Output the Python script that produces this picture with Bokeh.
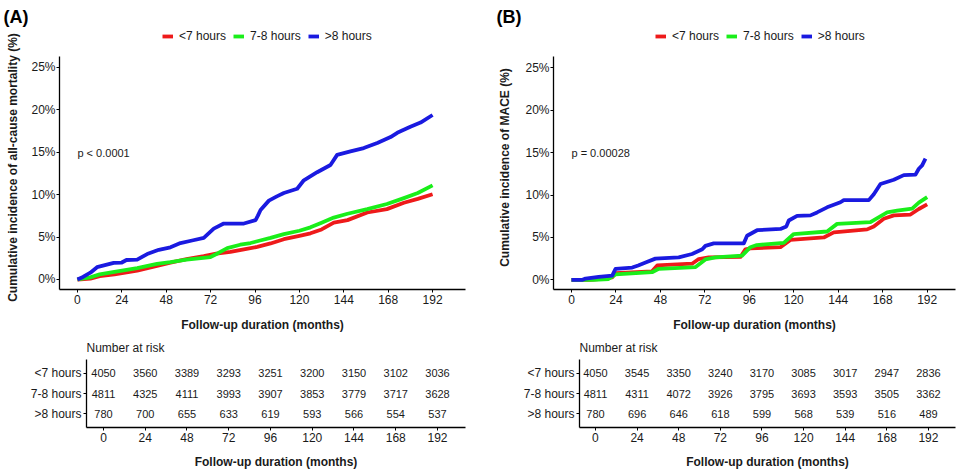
import math
from bokeh.plotting import figure
from bokeh.models import (Range1d, FixedTicker, PrintfTickFormatter, Label, Legend,
                          LegendItem, ColumnDataSource, Spacer)
from bokeh.layouts import row, column
from bokeh.embed import file_html
from bokeh.resources import INLINE
from bokeh.core.properties import value

FONT = "Liberation Sans"
GROUPS = ["<7 hours", "7-8 hours", ">8 hours"]
COLORS = ["#EE1A1A", "#1AEE1A", "#1A1AE0"]
X_TICKS = [0, 24, 48, 72, 96, 120, 144, 168, 192]
Y_TICKS = [0, 5, 10, 15, 20, 25]
RISK_TIMES = [0, 24, 48, 72, 96, 120, 144, 168, 192]

# ---------------- Panel A: all-cause mortality (cumulative %, months) ----------------
a_lt7_t = [0, 7, 12, 20, 32.3, 43, 50.3, 59, 68.3, 75, 82.7, 90, 97.2, 104.4, 111.6, 120,
           126, 132, 138.6, 146, 156.7, 167.3, 176.5, 184, 192]
a_lt7_y = [0, 0.1, 0.4, 0.6, 1.05, 1.6, 2.0, 2.4, 2.75, 3.05, 3.25, 3.55, 3.85, 4.25, 4.75, 5.15,
           5.45, 5.9, 6.7, 7.0, 7.9, 8.3, 9.05, 9.5, 10.05]
a_78_t = [0, 7, 12, 20, 32.3, 43, 50.3, 59, 71.9, 76, 81, 88, 93.6, 98.8, 104.4, 111.6, 120,
          126, 132, 138.6, 146, 156.7, 167.3, 176.5, 184, 192]
a_78_y = [0, 0.25, 0.6, 0.9, 1.35, 1.85, 2.05, 2.35, 2.65, 3.1, 3.7, 4.1, 4.3, 4.6, 4.9, 5.35, 5.75,
          6.15, 6.7, 7.3, 7.75, 8.3, 8.9, 9.6, 10.2, 11.1]
a_gt8_t = [0, 3, 7, 10.6, 19.6, 24, 26.5, 32.3, 37.7, 44, 50.3, 55.7, 62, 68.3, 73.7, 79.1, 90,
           96.3, 97.5, 99, 103.5, 107.8, 111.6, 118.8, 122.4, 129.6, 136.8, 140.4, 147.6, 154.8,
           162.1, 169.3, 172.9, 180, 185.5, 192]
a_gt8_y = [0, 0.3, 0.8, 1.45, 1.95, 2.0, 2.3, 2.35, 3.0, 3.5, 3.8, 4.3, 4.6, 4.9, 6.0, 6.6, 6.6,
           7.0, 7.5, 8.2, 9.3, 9.8, 10.2, 10.7, 11.7, 12.65, 13.5, 14.7, 15.1, 15.5,
           16.1, 16.8, 17.3, 18.0, 18.5, 19.4]

# ---------------- Panel B: MACE (cumulative %, months) ----------------
b_lt7_t = [0, 10, 14.6, 22, 23.8, 43.5, 46.3, 65.1, 68.7, 74.1, 91.2, 93.9, 96.6, 112.8, 118.2,
           136.2, 141.6, 159.6, 163.2, 168.6, 174, 183, 187.5, 192]
b_lt7_y = [0, 0, 0.1, 0.3, 0.8, 1.0, 1.7, 1.9, 2.45, 2.65, 2.7, 3.6, 3.7, 3.85, 4.7,
           5.0, 5.6, 5.95, 6.3, 7.2, 7.6, 7.7, 8.35, 8.9]
b_78_t = [0, 12, 20, 23.8, 43.5, 47.1, 67, 72.3, 77.7, 92.1, 96.6, 100, 114.6, 120, 138, 143.4,
          161.4, 170.4, 175.8, 183.9, 187.5, 192]
b_78_y = [0, 0, 0.1, 0.65, 0.9, 1.3, 1.5, 2.4, 2.65, 2.85, 3.85, 4.1, 4.35, 5.4, 5.7, 6.6,
          6.8, 7.95, 8.15, 8.4, 9.1, 9.75]
b_gt8_t = [0, 6, 7.6, 14.7, 22, 23.8, 32.8, 36, 40, 45.3, 57.9, 65.1, 70.6, 72.3, 76.8, 93, 94.8,
           100.2, 112.8, 116, 117.3, 121.8, 129, 132.6, 138, 145.2, 147, 160.5, 163.2, 166.8, 174,
           179.4, 185.7, 187.5, 189.3, 191.1]
b_gt8_y = [0, 0, 0.15, 0.35, 0.5, 1.3, 1.45, 1.7, 2.05, 2.5, 2.65, 3.05, 3.6, 4.0, 4.3, 4.3, 5.2,
           5.85, 6.0, 6.3, 7.0, 7.55, 7.6, 7.95, 8.55, 9.15, 9.4, 9.4, 10.1, 11.3, 11.8,
           12.35, 12.4, 13.1, 13.5, 14.3]

# ---------------- Numbers at risk ----------------
a_risk_lt7 = [4050, 3560, 3389, 3293, 3251, 3200, 3150, 3102, 3036]
a_risk_78 = [4811, 4325, 4111, 3993, 3907, 3853, 3779, 3717, 3628]
a_risk_gt8 = [780, 700, 655, 633, 619, 593, 566, 554, 537]
b_risk_lt7 = [4050, 3545, 3350, 3240, 3170, 3085, 3017, 2947, 2836]
b_risk_78 = [4811, 4311, 4072, 3926, 3795, 3693, 3593, 3505, 3362]
b_risk_gt8 = [780, 696, 646, 618, 599, 568, 539, 516, 489]

TEXT = "#1a1a1a"
LINE_W = 3.8


def style(p):
    for ax in (p.xaxis[0], p.yaxis[0]):
        ax.axis_line_color = "black"
        ax.axis_line_width = 1.3
        ax.major_tick_line_color = "black"
        ax.major_tick_line_width = 1
        ax.major_tick_out = 3
        ax.major_tick_in = 0
        ax.minor_tick_line_color = None
        ax.major_label_text_font = FONT
        ax.major_label_text_font_size = "12px"
        ax.major_label_text_color = TEXT
        ax.major_label_standoff = 2
        ax.axis_label_text_font = FONT
        ax.axis_label_text_font_size = "12px"
        ax.axis_label_text_font_style = "bold"
        ax.axis_label_text_color = TEXT
    p.xgrid.visible = False
    p.ygrid.visible = False
    p.outline_line_color = None
    p.background_fill_color = "white"
    p.border_fill_color = "white"


def side_panel(width, tag, tag_x, ylabel, label_x):
    h = 334
    s = figure(width=width, height=h, x_range=Range1d(0, width), y_range=Range1d(0, h),
               output_backend="svg", toolbar_location=None, x_axis_type=None, y_axis_type=None,
               min_border_left=0, min_border_right=0, min_border_top=0, min_border_bottom=0)
    s.outline_line_color = None
    s.xgrid.visible = False
    s.ygrid.visible = False
    s.add_layout(Label(x=tag_x, y=h - 16, text=tag, text_font=FONT, text_font_size="18px",
                       text_font_style="bold", text_color="black", text_baseline="middle"))
    s.add_layout(Label(x=label_x, y=h - 167, text=ylabel, angle=math.pi / 2, angle_units="rad",
                       text_font=FONT, text_font_size="12px", text_font_style="bold",
                       text_color=TEXT, text_align="center", text_baseline="middle"))
    return s


def km_panel(width, bl, br, xr, yr, ybounds, curves, pval, legend_x):
    p = figure(width=width, height=334, x_range=Range1d(*xr), y_range=Range1d(*yr),
               output_backend="svg", toolbar_location=None,
               min_border_left=bl, min_border_right=br, min_border_top=0, min_border_bottom=45)
    style(p)
    p.yaxis.major_label_standoff = 1
    p.xaxis.ticker = FixedTicker(ticks=X_TICKS)
    p.yaxis.ticker = FixedTicker(ticks=Y_TICKS)
    p.yaxis.formatter = PrintfTickFormatter(format="%d%%")
    p.yaxis.bounds = ybounds
    p.xaxis.axis_label = "Follow-up duration (months)"
    p.xaxis.axis_label_standoff = 11
    rs = []
    for (t, y), c in zip(curves, COLORS):
        rs.append(p.line(t, y, line_color=c, line_width=LINE_W, line_join="round"))
    legend = Legend(items=[LegendItem(label=g, renderers=[r]) for g, r in zip(GROUPS, rs)],
                    orientation="horizontal", location=(legend_x, 246.5),
                    glyph_width=11, glyph_height=12, label_height=12, label_standoff=6,
                    spacing=7, padding=0, margin=0,
                    border_line_color=None, background_fill_alpha=0,
                    label_text_font=FONT, label_text_font_size="12px", label_text_color=TEXT)
    p.add_layout(legend, "center")
    p.add_layout(Label(x=0, y=14.9, text=pval, text_font=FONT, text_font_size="11px",
                       text_color=TEXT, text_align="left", text_baseline="middle"))
    return p


def risk_panel(width, bl, br, xr, rows):
    t = figure(width=width, height=138, x_range=Range1d(*xr), y_range=Range1d(0.317, 3.683),
               output_backend="svg", toolbar_location=None, title="Number at risk",
               min_border_left=bl, min_border_right=br, min_border_top=24, min_border_bottom=45)
    style(t)
    t.title.align = "left"
    t.title.text_font = FONT
    t.title.text_font_size = "12px"
    t.title.text_font_style = "normal"
    t.title.text_color = TEXT
    t.title.standoff = 9
    t.xaxis.ticker = FixedTicker(ticks=X_TICKS)
    t.yaxis.ticker = FixedTicker(ticks=[1, 2, 3])
    t.yaxis.major_label_overrides = {3: GROUPS[0], 2: GROUPS[1], 1: GROUPS[2]}
    t.xaxis.axis_label = "Follow-up duration (months)"
    t.xaxis.axis_label_standoff = 10
    for i, vals in enumerate(rows):
        src = ColumnDataSource(dict(x=RISK_TIMES, y=[3 - i] * len(vals), txt=[str(v) for v in vals]))
        t.text(x="x", y="y", text="txt", source=src, text_align="center", text_baseline="middle",
               text_font=value(FONT), text_font_size="11px", text_color=TEXT)
    return t


side_a = side_panel(28, "(A)", 3, "Cumulative incidence of all-cause mortality (%)", 12.5)
side_b = side_panel(30, "(B)", 4, "Cumulative incidence of MACE (%)", 12)
pa = km_panel(464, 31, 27, (-9.7, 209.8), (-1.18, 32.9), (-1.18, 26.3),
              [(a_lt7_t, a_lt7_y), (a_78_t, a_78_y), (a_gt8_t, a_gt8_y)], "p < 0.0001", 103)
pb = km_panel(442, 31, 9, (-9.7, 207.3), (-1.14, 32.94), (-1.14, 26.33),
              [(b_lt7_t, b_lt7_y), (b_78_t, b_78_y), (b_gt8_t, b_gt8_y)], "p = 0.00028", 102)
ta = risk_panel(490, 84, 27, (-9.77, 208.1), [a_risk_lt7, a_risk_78, a_risk_gt8])
tb = risk_panel(470, 85, 9, (-9.2, 207.6), [b_risk_lt7, b_risk_78, b_risk_gt8])

col_a = column(row(column(side_a), pa), row(Spacer(width=2, height=138), ta))
col_b = column(row(column(side_b), pb), row(Spacer(width=2, height=138), tb))
layout = row(col_a, col_b)
open("out.html", "w").write(file_html(layout, INLINE))
